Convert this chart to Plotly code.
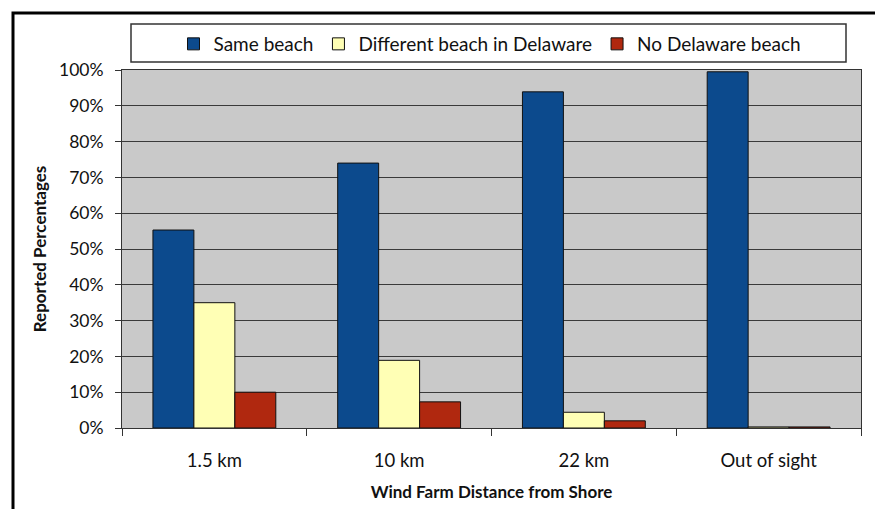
"""
wind farm distance vs beach choice, grouped bar chart
"""

import plotly.graph_objects as go

categories = ["1.5 km", "10 km", "22 km", "Out of sight"]
same_beach = [55.3, 74.0, 93.9, 99.5]
different_beach = [35.0, 18.9, 4.4, 0.3]
no_delaware = [10.0, 7.3, 2.0, 0.3]
y_ticks = [0, 10, 20, 30, 40, 50, 60, 70, 80, 90, 100]
y_labels = [f"{v}%" for v in y_ticks]

FONT = "Lato"
W, H = 875, 509
L, R, T, B = 122, 14, 70, 81


def px_x(x):
    # pixel x -> paper x
    return (x - L) / (W - L - R)


def px_y(y):
    # pixel y -> paper y
    return (H - B - y) / (H - T - B)


fig = go.Figure()
series = [
    ("Same beach", same_beach, "#0c4a8d"),
    ("Different beach in Delaware", different_beach, "#ffffb5"),
    ("No Delaware beach", no_delaware, "#b0280f"),
]
for name, vals, color in series:
    fig.add_trace(go.Bar(
        x=categories,
        y=vals,
        name=name,
        marker=dict(color=color, line=dict(color="#111111", width=1)),
    ))

# outer frame and legend box
fig.add_shape(type="rect", xref="paper", yref="paper",
              x0=px_x(13), x1=px_x(890), y0=px_y(13), y1=px_y(530),
              line=dict(color="black", width=3), fillcolor="rgba(0,0,0,0)", layer="below")
fig.add_shape(type="rect", xref="paper", yref="paper",
              x0=px_x(131), x1=px_x(846), y0=px_y(24), y1=px_y(62),
              line=dict(color="#333333", width=1.5), fillcolor="white", layer="below")

fig.update_layout(
    width=W,
    height=H,
    margin=dict(l=L, r=R, t=T, b=B),
    paper_bgcolor="white",
    plot_bgcolor="#c9c9c9",
    barmode="group",
    bargap=0.335,
    bargroupgap=0,
    font=dict(family=FONT, size=17, color="#111111"),
    showlegend=True,
    legend=dict(
        orientation="h",
        x=px_x(490),
        xanchor="center",
        y=px_y(44),
        yanchor="middle",
        bgcolor="rgba(0,0,0,0)",
        font=dict(family=FONT, size=19, color="#111111"),
        itemwidth=30,
        tracegroupgap=0,
    ),
    xaxis=dict(
        title=dict(text="<b>Wind Farm Distance from Shore</b>", font=dict(size=17), standoff=15),
        tickfont=dict(size=18.5),
        automargin=False,
        tickson="boundaries",
        ticks="outside",
        ticklen=7,
        tickcolor="#333333",
        ticklabelstandoff=16,
        showline=True,
        linecolor="#333333",
        linewidth=1,
        mirror=True,
        showgrid=False,
    ),
    yaxis=dict(
        title=dict(text="<b>Reported Percentages</b>", font=dict(size=17), standoff=8),
        tickfont=dict(size=17.5),
        range=[0, 100],
        tickvals=y_ticks,
        ticktext=y_labels,
        ticks="outside",
        ticklen=6,
        tickcolor="#333333",
        ticklabelstandoff=8,
        showline=True,
        linecolor="#333333",
        linewidth=1,
        mirror=True,
        showgrid=True,
        gridcolor="#3a3a3a",
        gridwidth=1,
        zeroline=False,
    ),
)

# page has a default body margin, drop it so the chart sits at 0,0
fig.write_html("out.html", config={"displayModeBar": False},
               post_script="document.body.style.margin='0';")
